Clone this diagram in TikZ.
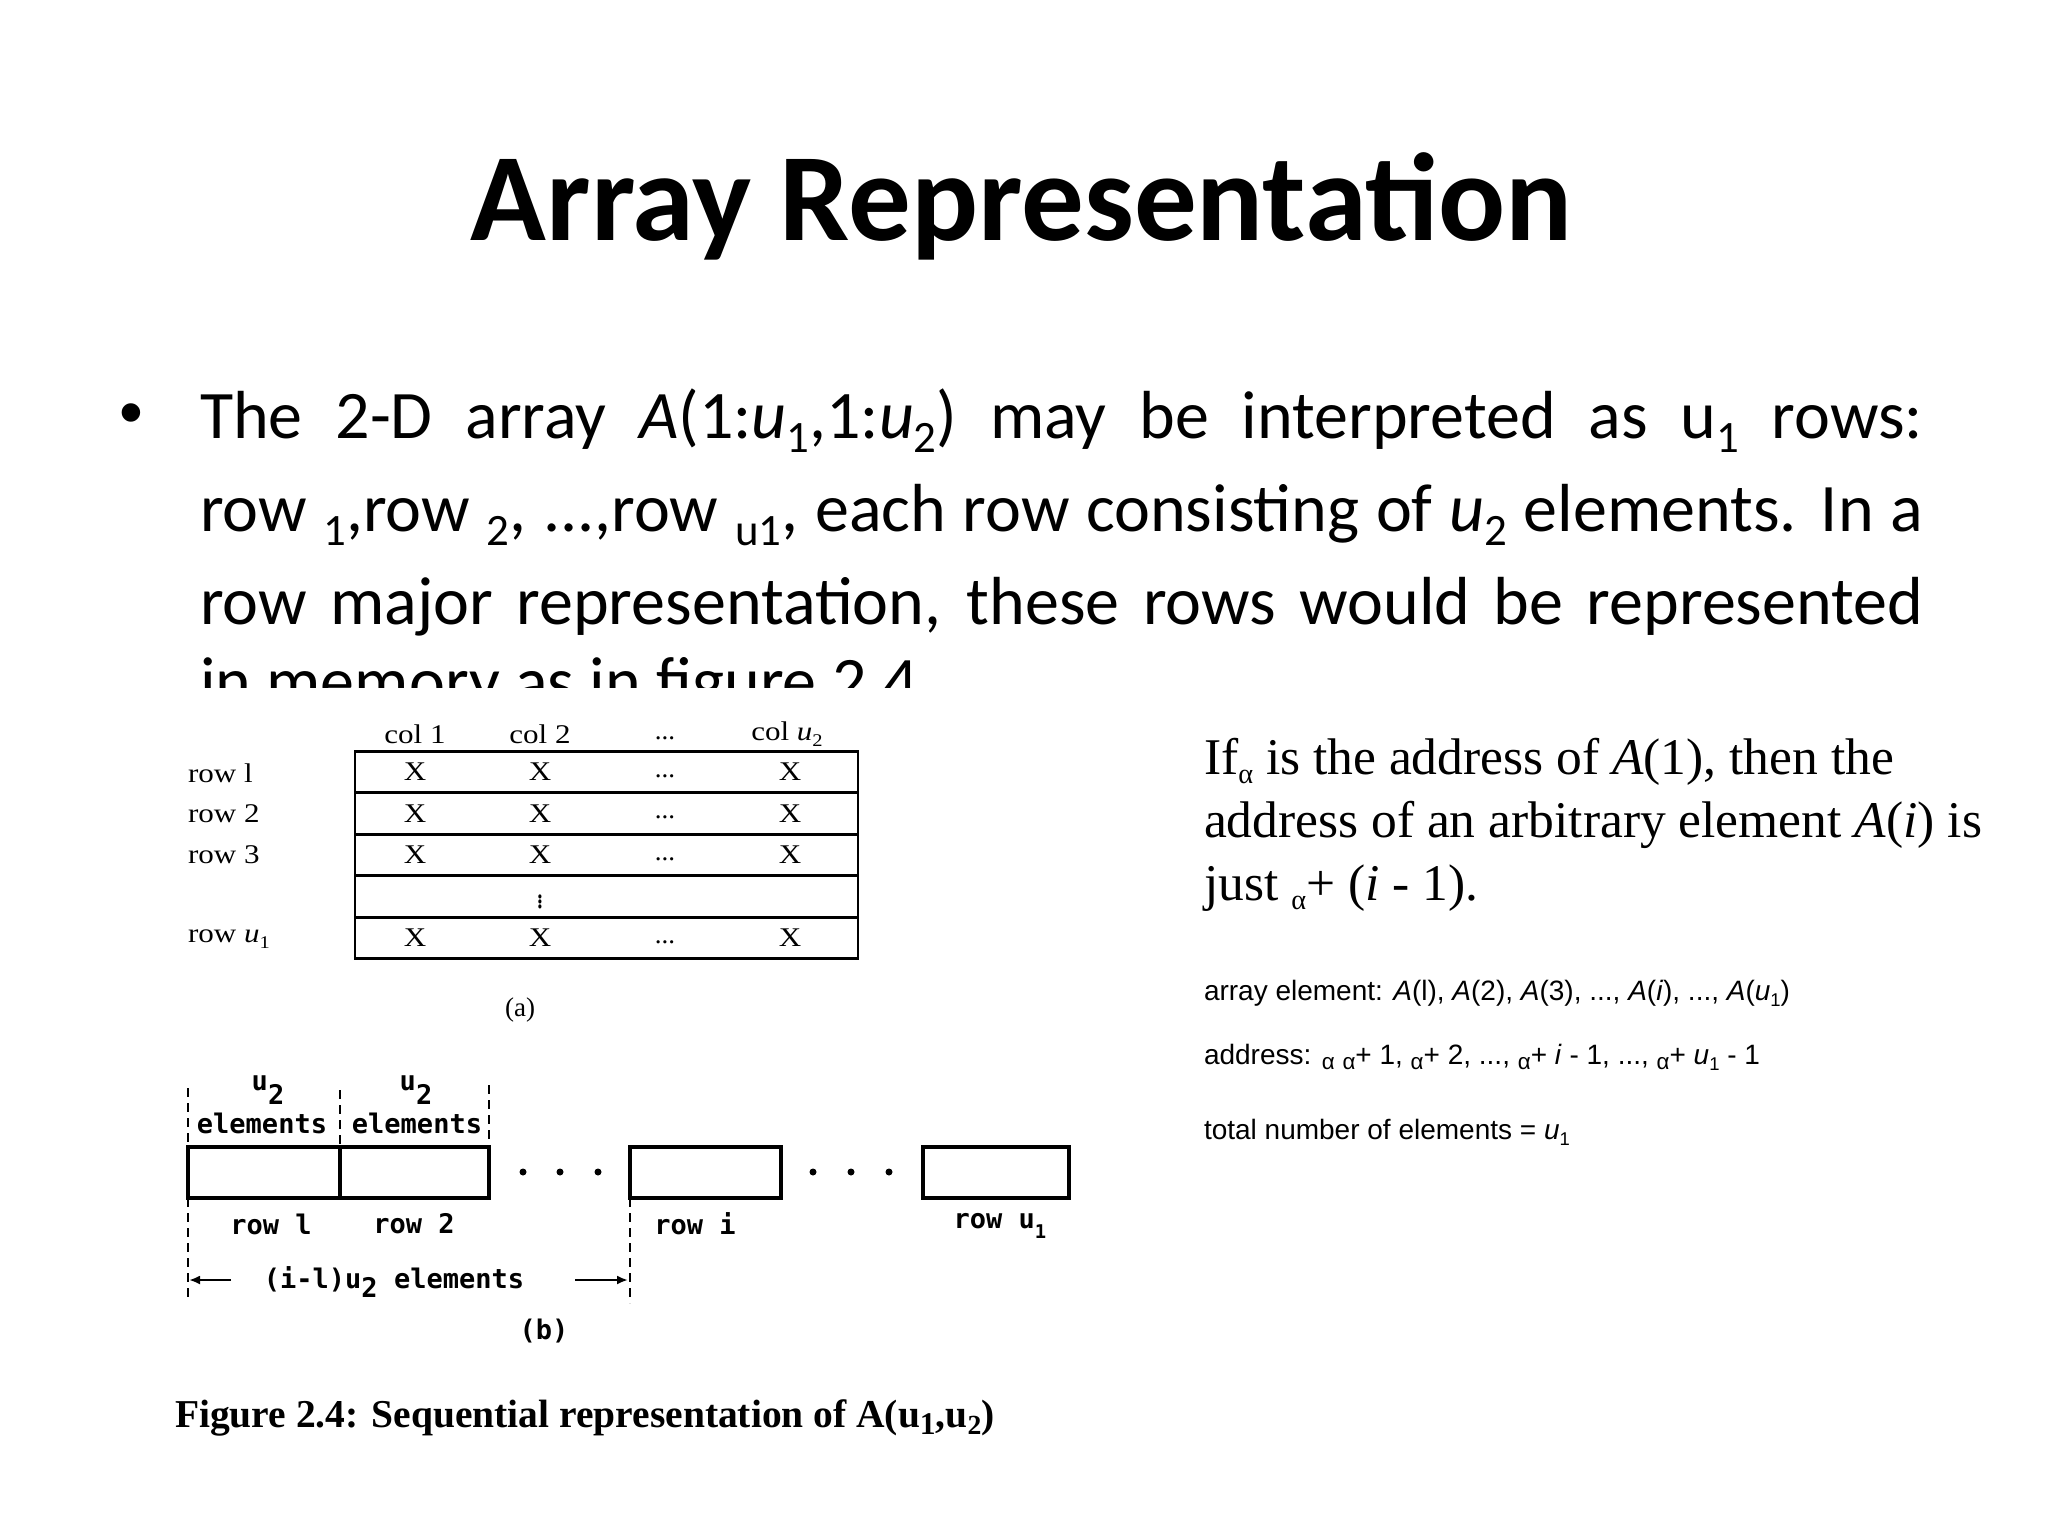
\documentclass[tikz,border=0pt]{standalone}
\usepackage{fontspec}
\setmainfont{Liberation Serif}
\newfontfamily\calibri{Carlito}
\newfontfamily\tnr{Liberation Serif}
\newfontfamily\arial{Liberation Sans}
\newfontfamily\scanfont{DejaVu Sans Mono}
\usetikzlibrary{arrows.meta}
\newcommand\fs[1]{\fontsize{#1}{#1}\selectfont}
\newcommand\dn[1]{\raisebox{-0.22em}{\scalebox{0.66}{#1}}}
\newcommand\al{\raisebox{-0.18em}{\scalebox{0.55}{α}}}
\newcommand\alb{\raisebox{-0.2em}{\scalebox{0.8}{α}}}
\newcommand\jline[1]{\makebox[1723pt][s]{#1}}
\newcommand\wide[1]{\scalebox{1.15}[1]{#1}}
\newcommand\tdots{...}
\tikzset{
  every node/.style={inner sep=0pt, outer sep=0pt},
  titletext/.style={font=\calibri\bfseries\fs{125}},
  bodytext/.style={font=\calibri\fs{68}, anchor=base west},
  serifnote/.style={font=\tnr\fs{51.5}, anchor=base west},
  arialnote/.style={font=\arial\fs{28}, anchor=base west},
  figa/.style={font=\tnr\fs{27}},
  figb/.style={font=\scanfont\bfseries\fs{27}},
  rowbox/.style={draw, line width=2.6pt, minimum width=503pt, minimum height=41.5pt},
  membox/.style={draw, line width=3.6pt, minimum height=51pt, anchor=north west},
  dim/.style={line width=1.5pt, dash pattern=on 9pt off 6pt},
  dimarrow/.style={line width=2.2pt, -{Latex[length=11pt,width=9pt]}},
  dot/.style={circle, fill, minimum size=7pt}
}
\begin{document}
\begin{tikzpicture}[x=1pt,y=-1pt]
\useasboundingbox (0,0) rectangle (2048,1536);
\fill[white] (0,0) rectangle (2048,1536);

% title
\node[titletext, anchor=base] (title) at (1022,240) {Array Representation};

% bullet text
\node[font=\arial\fs{68}, anchor=center] (bullet) at (131,420) {•};
\node[bodytext] (l1) at (200,438) {\jline{The 2-D array \textit{A}(1:\textit{u}\dn{1},1:\textit{u}\dn{2}) may be interpreted as u\dn{1} rows:}};
\node[bodytext] (l2) at (200,531) {\jline{row \dn{1},row \dn{2}, ...,row \dn{u1}, each row consisting of \textit{u}\dn{2} elements. In a}};
\node[bodytext] (l3) at (200,624) {\jline{row major representation, these rows would be represented}};
\begin{scope}
\clip (0,0) rectangle (2048,687);
\node[bodytext] (l4) at (200,704) {in memory as in figure 2.4};
\end{scope}

% right notes
\node[serifnote] (n1) at (1204,774) {If\al\ is the address of \textit{A}(1), then the};
\node[serifnote] (n2) at (1204,837) {address of an arbitrary element \textit{A}(\textit{i}) is};
\node[serifnote] (n3) at (1204,900) {just \al+ (\textit{i} - 1).};

\node[arialnote] (m1) at (1204,1000) {array element: \textit{A}(l), \textit{A}(2), \textit{A}(3), ..., \textit{A}(\textit{i}), ..., \textit{A}(\textit{u}\dn{1})};
\node[arialnote] (m2) at (1204,1064) {address: \alb\ \alb+ 1, \alb+ 2, ..., \alb+ \textit{i} - 1, ..., \alb+ \textit{u}\dn{1} - 1};
\node[arialnote] (m3) at (1204,1139) {total number of elements = \textit{u}\dn{1}};

% figure (a)
\node[rowbox] (ra1) at (606.5,772) {};
\node[rowbox] (ra2) at (606.5,813.5) {};
\node[rowbox] (ra3) at (606.5,855) {};
\node[rowbox] (ra4) at (606.5,896.5) {};
\node[rowbox] (ra5) at (606.5,938) {};

\node[figa] (ch1) at (415,734) {\wide{col 1}};
\node[figa] (ch2) at (540,734) {\wide{col 2}};
\node[figa] (ch3) at (665,738) {\tdots};
\node[figa] (ch4) at (787,734) {\wide{col \textit{u}\dn{2}}};

\foreach \r/\y in {1/772, 2/813.5, 3/855, 5/938}{
  \node[figa] (x\r a) at (415,\y) {\wide{X}};
  \node[figa] (x\r b) at (540,\y) {\wide{X}};
  \node[figa] (x\r c) at (665,\y+4) {\tdots};
  \node[figa] (x\r d) at (790,\y) {\wide{X}};
}
\node[figa] (vd) at (540,898) {\scalebox{1}[1.3]{$\vdots$}};

\node[figa, anchor=west] (rl1) at (188,773) {\wide{row l}};
\node[figa, anchor=west] (rl2) at (188,814) {\wide{row 2}};
\node[figa, anchor=west] (rl3) at (188,855) {\wide{row 3}};
\node[figa, anchor=west] (rl5) at (188,939) {\wide{row \textit{u}\dn{1}}};
\node[figa] (capa) at (520,1010) {(a)};

% figure (b)
\node[membox, minimum width=152pt] (b1) at (188,1147) {};
\node[membox, minimum width=149pt] (b2) at (340,1147) {};
\node[membox, minimum width=151pt] (bi) at (630,1147) {};
\node[membox, minimum width=146pt] (bu) at (923,1147) {};

\node[dot] (d1) at (523,1172) {};
\node[dot] (d2) at (560,1172) {};
\node[dot] (d3) at (598,1172) {};
\node[dot] (e1) at (813,1172) {};
\node[dot] (e2) at (851,1172) {};
\node[dot] (e3) at (889,1172) {};

\coordinate (t1) at (188,1088);
\coordinate (t2) at (340,1090);
\coordinate (t3) at (489,1085);
\coordinate (bot1) at (188,1302);
\coordinate (boti) at (630,1303);
\draw[dim] (t1) -- (b1.north west);
\draw[dim] (b1.south west) -- (bot1);
\draw[dim] (t2) -- (b2.north west);
\draw[dim] (t3) -- (b2.north east);
\draw[dim] (bi.south west) -- (boti);

\node[figb] (u2a) at (268,1090) {u\raisebox{-0.5em}{2}};
\node[figb] (u2b) at (416,1090) {u\raisebox{-0.5em}{2}};
\node[figb] (ela) at (262,1123) {elements};
\node[figb] (elb) at (417,1123) {elements};

\node[figb] (rb1) at (271,1224) {row l};
\node[figb] (rb2) at (414,1224) {row 2};
\node[figb] (rbi) at (695,1224) {row i};
\node[figb] (rbu) at (1000,1226) {row u\raisebox{-0.35em}{\scalebox{0.7}{1}}};

\node[figb] (span) at (394,1282) {(i-l)u\raisebox{-0.35em}{2} elements};
\coordinate (ls) at (231,1280);
\coordinate (le) at (189,1280);
\coordinate (rs) at (575,1280);
\coordinate (re) at (628,1280);
\draw[dimarrow] (ls) -- (le);
\draw[dimarrow] (rs) -- (re);
\node[figb] (capb) at (544,1331) {(b)};

% caption
\node[font=\tnr\bfseries\fs{39.5}, anchor=base west] (caption) at (175,1427)
  {Figure 2.4: Sequential representation of A(u\raisebox{-0.2em}{\scalebox{0.8}{1}},u\raisebox{-0.2em}{\scalebox{0.7}{2}})};
\end{tikzpicture}
\end{document}
